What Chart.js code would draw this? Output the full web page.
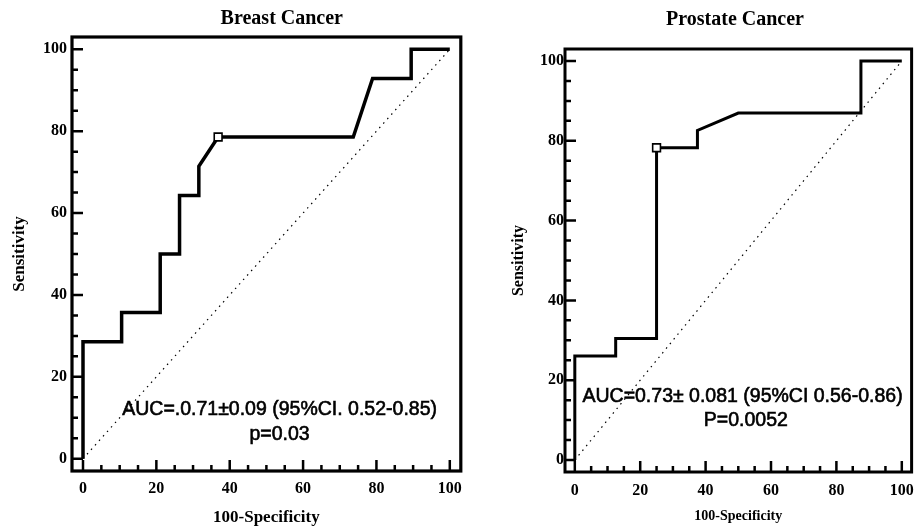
<!DOCTYPE html>
<html>
<head>
<meta charset="utf-8">
<script src="https://cdn.jsdelivr.net/npm/chart.js@4.4.1/dist/chart.umd.min.js"></script>
<style>
  body { margin: 0; background: #fff; width: 923px; height: 529px; overflow: hidden; position: relative; }
  canvas { position: absolute; top: 0; }
  #breastChart { left: 0; }
  #prostateChart { left: 470px; }
</style>
</head>
<body>
<canvas id="breastChart" width="470" height="529"></canvas>
<canvas id="prostateChart" width="453" height="529"></canvas>
<script>
// ROC curves: x = 100-Specificity, y = Sensitivity
const axisTicks = [0, 20, 40, 60, 80, 100];
const chanceLine = [0, 100];

const breastFpr = [0, 0, 10.53, 10.53, 21.05, 21.05, 26.32, 26.32, 31.58, 31.58, 36.84, 73.68, 78.95, 89.47, 89.47, 100];
const breastTpr = [0, 28.57, 28.57, 35.71, 35.71, 50, 50, 64.29, 64.29, 71.43, 78.57, 78.57, 92.86, 92.86, 100, 100];
const breastCut = [36.84, 78.57];

const prostateFpr = [0, 0, 12.5, 12.5, 25, 25, 37.5, 37.5, 50, 87.5, 87.5, 100];
const prostateTpr = [0, 26.09, 26.09, 30.43, 30.43, 78.26, 78.26, 82.61, 86.96, 86.96, 100, 100];
const prostateCut = [25, 78.26];

const toPts = (xs, ys) => xs.map((x, i) => ({ x: x, y: ys[i] }));

const serif = "'Liberation Serif', 'Times New Roman', serif";

// box round the plot area + inward tick marks every 5, longer every 20
const framePlugin = {
  id: "rocFrame",
  afterDraw: (chart, args, opts) => {
    const ctx = chart.ctx;
    const a = chart.chartArea;
    const xs = chart.scales.x;
    const ys = chart.scales.y;
    ctx.save();
    ctx.strokeStyle = "#000";
    ctx.lineWidth = opts.width;
    ctx.strokeRect(a.left, a.top, a.right - a.left, a.bottom - a.top);
    ctx.lineWidth = opts.tickWidth;
    ctx.beginPath();
    for (let v = 0; v <= 100; v += 5) {
      const len = v % 20 === 0 ? opts.major : opts.minor;
      const px = xs.getPixelForValue(v);
      ctx.moveTo(px, a.bottom);
      ctx.lineTo(px, a.bottom - len);
      const py = ys.getPixelForValue(v);
      ctx.moveTo(a.left, py);
      ctx.lineTo(a.left + len, py);
    }
    ctx.stroke();
    ctx.restore();
  },
};

// title above the box + AUC / p-value text inside it
const notePlugin = {
  id: "rocNote",
  afterDatasetsDraw: (chart, args, opts) => {
    const ctx = chart.ctx;
    const xs = chart.scales.x;
    const ys = chart.scales.y;
    ctx.save();
    ctx.fillStyle = "#000";
    ctx.strokeStyle = "#000";
    ctx.textAlign = "center";
    ctx.textBaseline = "middle";

    ctx.font = "bold 20px " + serif;
    ctx.fillText(opts.title, xs.getPixelForValue(opts.titleX), opts.titleY);

    ctx.font = opts.font;
    ctx.lineWidth = 0.6;
    opts.lines.forEach((l) => {
      const px = xs.getPixelForValue(l.x);
      const py = ys.getPixelForValue(l.y);
      ctx.fillText(l.text, px, py);
      ctx.strokeText(l.text, px, py);
    });
    ctx.restore();
  },
};

function rocChart(id, o) {
  return new Chart(document.getElementById(id), {
    type: "scatter",
    data: {
      datasets: [
        {
          data: [{ x: o.cut[0], y: o.cut[1] }],
          pointStyle: "rect",
          pointRadius: 5.5,
          pointBackgroundColor: "#fff",
          pointBorderColor: "#000",
          pointBorderWidth: 1.6,
          showLine: false,
          order: 0,
        },
        {
          data: o.roc,
          showLine: true,
          borderColor: "#000",
          borderWidth: o.lineWidth,
          borderJoinStyle: "miter",
          pointRadius: 0,
          order: 1,
        },
        {
          data: toPts(chanceLine, chanceLine),
          showLine: true,
          borderColor: "#000",
          borderWidth: 1.2,
          borderDash: [1.5, 4.5],
          pointRadius: 0,
          order: 2,
        },
      ],
    },
    options: {
      responsive: false,
      animation: false,
      devicePixelRatio: 1,
      layout: { padding: { left: 0, right: o.padRight, top: o.padTop, bottom: 0 } },
      plugins: {
        legend: { display: false },
        tooltip: { enabled: false },
        title: { display: false },
        rocFrame: { width: o.frameWidth, tickWidth: 2.5, major: 11, minor: 6 },
        rocNote: {
          title: o.title,
          titleX: o.titleX,
          titleY: o.titleY,
          font: o.noteFont + "px 'Liberation Sans', Arial, sans-serif",
          lines: o.notes,
        },
      },
      scales: {
        x: {
          type: "linear",
          min: -3,
          max: 103,
          afterBuildTicks: (s) => { s.ticks = axisTicks.map((v) => ({ value: v })); },
          afterFit: (s) => { s.height = o.xAxisHeight; },
          grid: { display: false, drawTicks: false },
          border: { display: false },
          ticks: { color: "#000", padding: o.xTickPad, font: { family: serif, size: 16, weight: "bold" } },
          title: {
            display: true,
            text: "100-Specificity",
            color: "#000",
            font: { family: serif, size: o.xTitleSize, weight: "bold" },
            padding: { top: 0, bottom: o.xTitlePad },
          },
        },
        y: {
          type: "linear",
          min: -3,
          max: 103,
          afterBuildTicks: (s) => { s.ticks = axisTicks.map((v) => ({ value: v })); },
          afterFit: (s) => { s.width = o.yAxisWidth; },
          grid: { display: false, drawTicks: false },
          border: { display: false },
          ticks: { color: "#000", padding: o.yTickPad, font: { family: serif, size: 16, weight: "bold" } },
          title: {
            display: true,
            text: "Sensitivity",
            color: "#000",
            font: { family: serif, size: o.yTitleSize, weight: "bold" },
            padding: { top: o.yTitlePad, bottom: 0 },
          },
        },
      },
    },
    plugins: [framePlugin, notePlugin],
  });
}

rocChart("breastChart", {
  title: "Breast Cancer",
  titleX: 54.2,
  titleY: 19,
  roc: toPts(breastFpr, breastTpr),
  cut: breastCut,
  lineWidth: 3.5,
  frameWidth: 3.2,
  padRight: 4,
  padTop: 37,
  xAxisHeight: 58,
  yAxisWidth: 72,
  xTickPad: 8,
  yTickPad: 5,
  xTitleSize: 17,
  xTitlePad: 1,
  yTitleSize: 17,
  yTitlePad: 9,
  noteFont: 19.5,
  notes: [
    { text: "AUC=.0.71\u00b10.09 (95%CI. 0.52-0.85)", x: 53.6, y: 12 },
    { text: "p=0.03", x: 53.6, y: 5.9 },
  ],
});

rocChart("prostateChart", {
  title: "Prostate Cancer",
  titleX: 49,
  titleY: 20,
  roc: toPts(prostateFpr, prostateTpr),
  cut: prostateCut,
  lineWidth: 3,
  frameWidth: 3,
  padRight: 5,
  padTop: 49,
  xAxisHeight: 57,
  yAxisWidth: 95,
  xTickPad: 9,
  yTickPad: 1,
  xTitleSize: 14,
  xTitlePad: 4.6,
  yTitleSize: 16,
  yTitlePad: 39,
  noteFont: 19.5,
  notes: [
    { text: "AUC=0.73\u00b1 0.081 (95%CI 0.56-0.86)", x: 51.3, y: 15.8 },
    { text: "P=0.0052", x: 52.3, y: 9.8 },
  ],
});
</script>
</body>
</html>
